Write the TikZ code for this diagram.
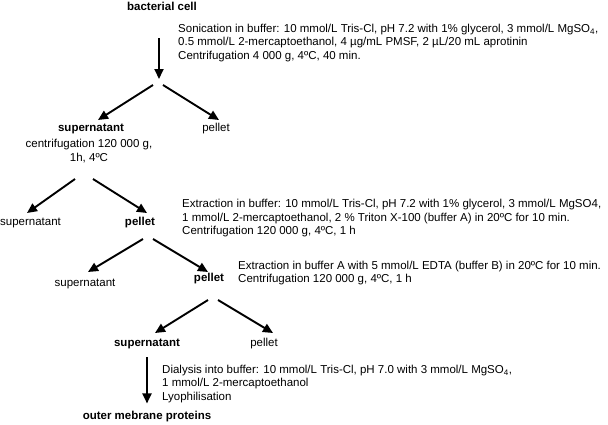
\documentclass[tikz,border=0pt]{standalone}
\usepackage{fontspec}
\setmainfont{Liberation Sans}
\usepackage{tikz}
\usetikzlibrary{arrows.meta,positioning}

\begin{document}
\begin{tikzpicture}[x=1pt,y=-1pt,
  lbl/.style={inner sep=0pt,font=\fontsize{11.5}{13.5}\selectfont},
  boldlbl/.style={inner sep=0pt,font=\fontsize{11.5}{13.5}\selectfont\bfseries},
  note/.style={lbl,align=left,anchor=west},
  arr/.style={-{Triangle[length=10pt,width=9pt]},line width=1.9pt}]
\useasboundingbox (0,0) rectangle (608,424);

% Fractions
\node[boldlbl] (cell) at (162,6) {bacterial cell};
\node[boldlbl] (sup1) at (91,129) {supernatant};
\node[lbl] (pel1) at (216,129) {pellet};
\node[lbl,align=center] (spin1) at (89,151) {centrifugation 120 000 g,\\1h, 4ºC};
\node[lbl] (sup2) at (30.5,223) {supernatant};
\node[boldlbl] (pel2) at (140,223) {pellet};
\node[lbl] (sup3) at (85,284) {supernatant};
\node[boldlbl] (pel3) at (209,279) {pellet};
\node[boldlbl] (sup4) at (147,344) {supernatant};
\node[lbl] (pel4) at (264,344) {pellet};
\node[boldlbl] (omp) at (147,417) {outer mebrane proteins};

% Steps
\node[note] (step1) at (178,43) {Sonication in buffer: 10 mmol/L Tris-Cl, pH 7.2 with 1\% glycerol, 3 mmol/L MgSO\textsubscript{4},\\
  0.5 mmol/L 2-mercaptoethanol, 4 µg/mL PMSF, 2 µL/20 mL aprotinin\\
  Centrifugation 4 000 g, 4ºC, 40 min.};
\node[note] (step2) at (182,218.5) {Extraction in buffer: 10 mmol/L Tris-Cl, pH 7.2 with 1\% glycerol, 3 mmol/L MgSO4,\\
  1 mmol/L 2-mercaptoethanol, 2 \% Triton X-100 (buffer A) in 20ºC for 10 min.\\
  Centrifugation 120 000 g, 4ºC, 1 h};
\node[note] (step3) at (238,273) {Extraction in buffer A with 5 mmol/L EDTA (buffer B) in 20ºC for 10 min.\\
  Centrifugation 120 000 g, 4ºC, 1 h};
\node[note] (step4) at (162,384) {Dialysis into buffer: 10 mmol/L Tris-Cl, pH 7.0 with 3 mmol/L MgSO\textsubscript{4},\\
  1 mmol/L 2-mercaptoethanol\\
  Lyophilisation};

% Arrow ends
\coordinate (top1) at (159,38);
\coordinate (split1) at (159,79);
\foreach \n/\lx/\rx/\sx/\sy/\lex/\rex/\ey in {1/153/163/158/85/98/219/120,
    2/75/93/84/179/27/147/213,
    3/143/153/148/239/88/208/272,
    4/208/218/213/300/155/273/333} {
  \coordinate (l\n) at (\lx,\sy);
  \coordinate (r\n) at (\rx,\sy);
  \coordinate (le\n) at (\lex,\ey);
  \coordinate (re\n) at (\rex,\ey);
}

\draw[arr] (top1) -- (split1);
\foreach \n in {1,2,3,4} {
  \draw[arr] (l\n) -- (le\n);
  \draw[arr] (r\n) -- (re\n);
}
\draw[arr,shorten <=8pt,shorten >=8pt] (sup4) -- (omp);
\end{tikzpicture}
\end{document}
